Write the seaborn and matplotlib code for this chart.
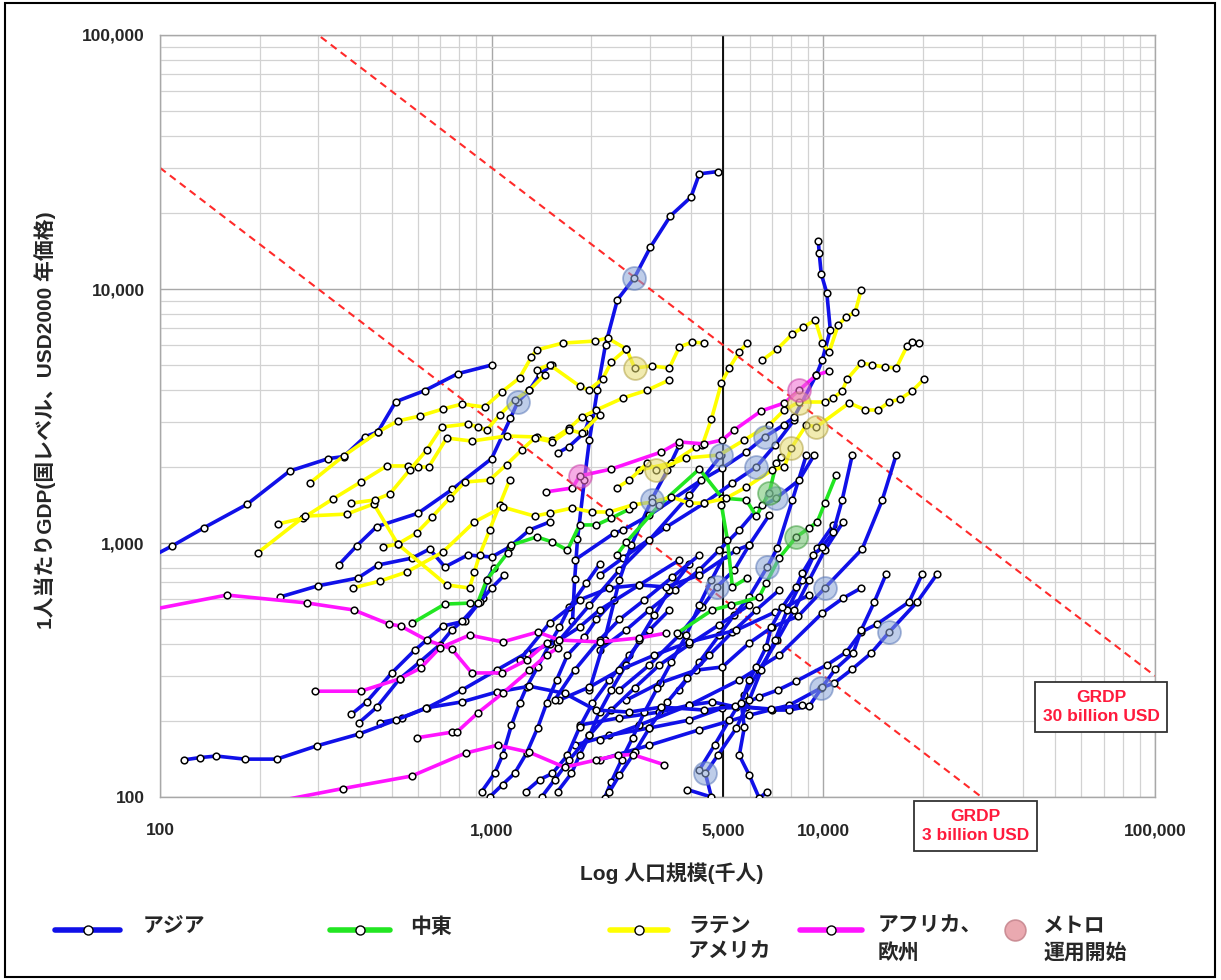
import numpy as np
import pandas as pd
import matplotlib
matplotlib.use("Agg")
import matplotlib.pyplot as plt
import seaborn as sns
from matplotlib.lines import Line2D
from matplotlib.patches import Rectangle
from matplotlib.ticker import LogLocator, NullFormatter

# ---------------- data (population in thousands, GDP per capita USD2000) -------------
asia_pop = [
    [93, 109, 136, 183, 246, 322, 358, 415, 454, 514, 628, 790, 1000],
    [1753, 1780, 1815, 1905, 1973, 2085, 2205, 2395, 2695, 3010, 3460, 3990, 4230, 4810],
    [346, 392, 450, 600, 760, 1000, 1140, 1200, 1300, 1395, 1520],
    [1590, 1710, 1905, 1973],
    [118, 132, 148, 180, 225, 297, 398, 515, 632, 815, 1035, 1300, 1660, 2060, 2600, 3250, 4380, 5430, 6950, 8650],
    [378, 420, 500, 587, 713, 830, 940, 968, 1015],
    [398, 451, 528, 607, 697, 758, 815, 920, 1000, 1093],
    [230, 299, 395, 454, 577, 650, 723, 848, 1000, 1133, 1300, 1495],
    [1780, 2345, 2490, 2990, 4290, 4960, 5860, 6660, 7600, 8170, 9530, 9930, 10500, 10250, 9860, 9720, 9660],
    [6780, 6411, 5980, 5581, 5780, 5660, 5980, 6280, 6730, 6970, 7530, 8290, 8650, 9330, 9930, 10720, 11400, 12230],
    [2550, 3210, 4140, 4960, 5980, 7020, 8410, 10110, 13100, 15060, 16590],
    [2115, 2990, 4230, 5980, 7900, 9860, 10790, 12230, 13960, 15800, 19190, 22040],
    [1841, 2429, 3205, 3946, 4630, 5470, 6411, 7310, 8290, 10250, 11730, 13010, 14540, 18138, 19880],
    [1780, 2266, 2990, 3946, 4960, 5860, 7020, 7900, 9067, 9930, 10870, 12310, 13010, 14250, 15470],
    [4230, 4700, 5207, 5780, 6411, 7270, 8170, 9067, 10110, 11480],
    [3682, 4230, 4858, 5390, 5980, 6780, 7270, 8070, 8890],
    [2115, 2540, 2990, 3560, 4230, 4858, 5581, 6280, 7220, 8460, 9390],
    [2115, 2490, 3365, 4380, 5320, 6280, 7160, 8170],
    [1602, 1973, 2429, 2990, 3946, 4930],
    [1973, 2190, 2429, 2640, 3055, 3390, 3682],
    [2429, 2990, 3682, 4320, 4770, 5390, 5980, 6871],
    [2115, 2790, 3946, 5581, 7364, 9930, 11480, 13010],
    [933, 1021, 1079, 1148, 1214, 1275, 1376, 1495, 1602, 1717, 1932, 2115],
    [986, 1079, 1173, 1275, 1376, 1465, 1570, 1693, 1905, 2070, 2345],
    [1266, 1395, 1526, 1693, 1841, 2014, 2266, 2603, 2990, 3435],
    [1580, 1741, 1841, 1973, 2115, 2297, 2540, 2790, 3097, 3435, 3946],
    [2190, 2297, 2465, 2660, 2890, 3162, 3485, 3865, 4230, 4600, 5040],
    [2266, 2429, 2700, 2990, 3390, 3890, 4533, 5320, 6280, 7364],
    [1415, 1549, 1717, 1973, 2297, 2700, 3205, 3946, 4858, 5980],
    [460, 536, 637, 815, 1035, 1275, 1570, 1841, 2115, 2790, 3682],
    [1602, 1973, 2429, 3097, 3946, 5470, 7160, 9067],
    [3890, 4600, 4410, 4810, 5470, 5980, 6500, 7160, 7790, 8650, 9590, 10720],
    [1214, 1495, 1841, 2266, 2790, 3365, 4230, 5470, 5980],
    [1549, 1780, 2115, 2429, 2890, 3510, 4230],
]
asia_gdp = [
    [875, 975, 1150, 1420, 1920, 2150, 2190, 2620, 2740, 3600, 3980, 4640, 5020],
    [491, 719, 1033, 1778, 2555, 4016, 6037, 9073, 11070, 14600, 19400, 23000, 28400, 29000],
    [820, 975, 1160, 1310, 1625, 2150, 3100, 3600, 4000, 4600, 5020],
    [2270, 2395, 2725, 3100],
    [140, 143, 145, 141, 141, 159, 177, 201, 224, 237, 259, 273, 256, 220, 216, 226, 220, 228, 222, 230],
    [212, 237, 308, 379, 471, 493, 607, 715, 797],
    [196, 226, 292, 340, 397, 454, 493, 586, 665, 748],
    [613, 678, 728, 819, 873, 947, 805, 897, 881, 965, 1125, 1210],
    [857, 1095, 1125, 1288, 1770, 1973, 2282, 2615, 2917, 3133, 4587, 5250, 6900, 9640, 11460, 13870, 15450],
    [105, 99, 122, 146, 188, 234, 289, 325, 390, 467, 560, 671, 762, 897, 965, 1105, 1477, 2220],
    [241, 281, 316, 325, 404, 467, 516, 665, 947, 1477, 2220],
    [140, 160, 184, 210, 230, 269, 281, 319, 369, 446, 586, 755],
    [192, 205, 216, 230, 237, 226, 248, 264, 286, 331, 372, 446, 480, 586, 755],
    [160, 175, 187, 201, 224, 226, 220, 220, 228, 271, 319, 369, 454, 586, 755],
    [128, 160, 201, 252, 316, 415, 545, 715, 938, 1210],
    [264, 340, 434, 521, 613, 805, 955, 1477, 2220],
    [379, 454, 545, 653, 783, 938, 1125, 1349, 1503, 1770, 2220],
    [748, 873, 1156, 1436, 1722, 1992, 2432, 3050],
    [415, 570, 783, 1028, 1545, 2220],
    [264, 415, 715, 982, 1503, 1938, 2432],
    [264, 331, 434, 560, 671, 783, 982, 1288],
    [168, 192, 230, 289, 362, 530, 607, 665],
    [105, 124, 146, 192, 234, 271, 325, 399, 467, 560, 697, 824],
    [100, 112, 124, 149, 187, 234, 289, 362, 427, 500, 597],
    [105, 117, 124, 146, 188, 234, 289, 362, 454, 545],
    [105, 124, 146, 175, 216, 264, 331, 415, 521, 653, 824],
    [99, 115, 140, 171, 216, 269, 340, 434, 570, 715, 897],
    [105, 122, 150, 187, 237, 294, 362, 446, 545, 653],
    [100, 117, 140, 175, 220, 269, 331, 399, 477, 570],
    [196, 205, 224, 264, 316, 369, 408, 467, 545, 684, 857],
    [241, 271, 316, 362, 408, 454, 535, 624],
    [107, 100, 124, 146, 187, 241, 316, 415, 545, 715, 955, 1178],
    [346, 484, 597, 665, 684, 671, 748, 938, 982],
    [241, 316, 415, 500, 597, 735, 897],
]

mideast_pop = [
    [577, 723, 858, 907, 966, 1117, 1148, 1367, 1526, 1693, 1841, 2070, 2297, 2603],
    [2382, 2550, 3205, 4230, 4960, 5860, 6280, 6550, 6871, 7220, 7470],
    [3630, 4630, 5280, 6411, 6730, 7364, 8290, 9067, 9590, 10110, 10940],
    [4930, 5140, 5320, 5900],
]
mideast_gdp = [
    [484, 575, 580, 580, 715, 914, 982, 1057, 1009, 938, 1178, 1178, 1254, 1361],
    [897, 1009, 1412, 1956, 1503, 1477, 1276, 1412, 1574, 2065, 2181],
    [442, 545, 570, 613, 697, 873, 1057, 1146, 1210, 1436, 1853],
    [1412, 1028, 671, 728],
]

latam_pop = [
    [283, 358, 454, 521, 607, 713, 815, 952, 1072, 1214, 1318, 1367, 1636, 2043, 2236, 2550, 2700, 3035, 3435, 3682, 4030, 4380],
    [227, 270, 332, 403, 483, 558, 598, 646, 732, 871, 1110, 1367, 1516, 1717, 1867, 2070, 2490, 2950, 3435],
    [197, 273, 366, 441, 521, 732, 858, 887, 920, 986, 1057, 1133],
    [381, 460, 555, 713, 887, 1079, 1348, 1495, 1753, 2001, 2266, 2660, 3035, 3485, 3946, 4380, 5100, 5860, 7020, 7630,
     8010, 8890, 9530, 11970, 13390, 14650, 15800, 17060, 18530, 20150],
    [6550, 7270, 8070, 8710, 9460, 9930, 10420, 11090, 11730, 12480, 13010],
    [2790, 3485, 4140, 4320, 4600, 4930, 5207, 5581, 5900],
    [2382, 2603, 2950, 3140, 3865, 4858, 5780, 6871, 7630, 8460, 10110, 10720, 11400, 11810, 13010, 14050, 15310, 16590,
     17900, 18530, 19460],
    [470, 521, 594, 661, 747, 830, 986, 1110, 1231, 1348, 1526, 1717, 1867, 2115],
    [378, 444, 493, 566, 637, 707, 850, 907, 966, 1057, 1173, 1300, 1445],
    [1367, 1495, 1841, 1960, 2160, 2297, 2550],
]
latam_gdp = [
    [1722, 2202, 2735, 3022, 3162, 3370, 3526, 3430, 3930, 4467, 5400, 5754, 6124, 6237, 6412, 5805, 4885, 4977, 4885, 5915, 6180, 6124],
    [1188, 1254, 1490, 1738, 2011, 2011, 1992, 1992, 2590, 2521, 2638, 2615, 2545, 2837, 3133, 3340, 3724, 4000, 4385],
    [914, 1276, 1300, 1426, 991, 684, 665, 769, 897, 1125, 1412, 1770],
    [665, 708, 769, 922, 1210, 1386, 1276, 1313, 1374, 1325, 1325, 1412, 1449, 1517, 1436, 1436, 1503, 1660, 1938, 1992,
     2366, 2917, 2862, 3559, 3340, 3340, 3590, 3690, 3965, 4424],
    [5250, 5805, 6650, 7080, 7550, 6124, 5650, 7210, 7760, 8110, 9910],
    [1938, 2065, 2388, 2432, 3076, 4266, 4885, 5650, 6124],
    [1647, 1770, 2065, 1938, 2161, 2220, 2545, 2917, 3340, 3590, 3590, 3724, 3965, 4424, 5114, 5020, 4930, 4885,
     5970, 6180, 6124],
    [965, 991, 1095, 1265, 1503, 1738, 1770, 2037, 2323, 2590, 2500, 2786, 2710, 3190],
    [1436, 1477, 1560, 1938, 2323, 2862, 2944, 2862, 2786, 3190, 3656, 4000, 4587],
    [4800, 5037, 4150, 4000, 4424, 5160, 5805],
]

afeu_pop = [
    [90, 159, 277, 384, 489, 532, 637, 758, 871, 1072, 1275, 1465],
    [293, 403, 528, 611, 697, 858, 1079, 1376, 1602, 2115, 2790, 3365],
    [594, 758, 785, 907, 1079, 1300, 1465, 1580],
    [214, 356, 574, 835, 1042, 1300, 1660, 2070, 2397, 2660, 3316],
    [1455, 1753, 1841, 2297, 3250, 3682, 4380, 4960, 5390, 6500, 7630, 8460, 9530, 10420],
]
afeu_gdp = [
    [540, 624, 581, 545, 480, 471, 415, 383, 308, 308, 346, 404],
    [261, 261, 292, 322, 386, 434, 408, 446, 415, 408, 423, 442],
    [171, 180, 180, 214, 256, 316, 362, 386],
    [95, 108, 121, 149, 160, 150, 131, 140, 146, 147, 134],
    [1589, 1647, 1835, 1956, 2282, 2500, 2455, 2545, 2786, 3311, 3559, 4000, 4587, 4753],
]

metro_region = ["アジア"] * 13 + ["ラテンアメリカ"] * 5 + ["アフリカ、欧州"] * 2 + ["中東"] * 2
metro_pop = [2695, 1200, 4930, 6660, 6280, 3035, 7220, 6780, 4770, 10110, 15800, 9860, 4410,
             2700, 3140, 8010, 9530, 8460,
             1841, 8460,
             6871, 8290]
metro_gdp = [11070, 3600, 2220, 2615, 1992, 1477, 1503, 805, 671, 665, 446, 269, 124,
             4885, 1938, 2366, 2862, 3559,
             1835, 4000,
             1574, 1057]

grdp_levels = [3e6, 3e7]          # thousand persons x USD  -> 3 and 30 billion USD
grdp_labels = ["GRDP\n3 billion USD", "GRDP\n30 billion USD"]
ref_pop = 5000
x_ticks = [100, 1000, 5000, 10000, 100000]
x_tick_labels = ["100", "1,000", "5,000", "10,000", "100,000"]
y_ticks = [100, 1000, 10000, 100000]
y_tick_labels = ["100", "1,000", "10,000", "100,000"]
legend_labels = ["アジア", "中東", "ラテン\nアメリカ", "アフリカ、\n欧州", "メトロ\n運用開始"]

regions = ["アジア", "中東", "ラテンアメリカ", "アフリカ、欧州"]
line_colors = {"アジア": "#1010e8", "中東": "#22e622", "ラテンアメリカ": "#ffff00", "アフリカ、欧州": "#ff14ff"}
metro_fill = {"アジア": "#8aa4d8", "中東": "#6cc46c", "ラテンアメリカ": "#e6dc70", "アフリカ、欧州": "#f06ad2"}
metro_edge = {"アジア": "#5a78b8", "中東": "#3c9c3c", "ラテンアメリカ": "#b0a040", "アフリカ、欧州": "#c83ca8"}

# ---------------- build long table ----------------
rows = []
for reg, P, G in [("アジア", asia_pop, asia_gdp), ("中東", mideast_pop, mideast_gdp),
                  ("ラテンアメリカ", latam_pop, latam_gdp), ("アフリカ、欧州", afeu_pop, afeu_gdp)]:
    for i, (ps, gs) in enumerate(zip(P, G)):
        for k, (p, g) in enumerate(zip(ps, gs)):
            rows.append({"region": reg, "sid": f"{reg}-{i}", "order": k, "pop": p, "gdp": g})
df = pd.DataFrame(rows)
metro_df = pd.DataFrame({"region": metro_region, "pop": metro_pop, "gdp": metro_gdp})

# ---------------- style ----------------
sns.set_theme(style="white")
plt.rcParams["font.family"] = ["Liberation Sans", "Noto Sans CJK JP", "DejaVu Sans"]

fig = plt.figure(figsize=(12.21, 9.8), dpi=100)
ax = fig.add_axes([0.131, 0.1867, 0.8149, 0.7776])
ax.set_xscale("log")
ax.set_yscale("log")
ax.set_xlim(100, 100000)
ax.set_ylim(100, 100000)

ax.xaxis.set_minor_locator(LogLocator(base=10, subs=np.arange(2, 10)))
ax.yaxis.set_minor_locator(LogLocator(base=10, subs=np.arange(2, 10)))
ax.xaxis.set_minor_formatter(NullFormatter())
ax.yaxis.set_minor_formatter(NullFormatter())
ax.set_xticks(x_ticks, labels=x_tick_labels, fontweight="bold", fontsize=12.5)
ax.set_yticks(y_ticks, labels=y_tick_labels, fontweight="bold", fontsize=12.5)
ax.tick_params(axis="x", which="both", length=0, pad=19)
ax.tick_params(axis="y", which="both", length=0, pad=11)
ax.grid(which="major", color="#a8a8a8", linewidth=1.0)
ax.grid(which="minor", color="#d2d2d2", linewidth=0.9)
ax.set_axisbelow(True)
for sp in ax.spines.values():
    sp.set_color("#a8a8a8")
    sp.set_linewidth(1.0)

ax.axvline(ref_pop, color="black", linewidth=1.3, zorder=1.5)

# ---------------- trajectories ----------------
for reg in regions:
    sub = df[df["region"] == reg]
    sns.lineplot(data=sub, x="pop", y="gdp", units="sid", estimator=None, sort=False,
                 color=line_colors[reg], linewidth=2.6, marker="o", markersize=4.8,
                 markerfacecolor="white", markeredgecolor="black", markeredgewidth=1.1,
                 legend=False, ax=ax, zorder=3)

# metro start markers
for reg in regions:
    sub = metro_df[metro_df["region"] == reg]
    sns.scatterplot(data=sub, x="pop", y="gdp", s=270, color=metro_fill[reg], alpha=0.55,
                    edgecolor=metro_edge[reg], linewidth=1.3, legend=False, ax=ax, zorder=4)

# GRDP iso-lines
xr = np.array([100.0, 100000.0])
for lvl in grdp_levels:
    ax.plot(xr, lvl / xr, color="#ff2a2a", linestyle=(0, (3.5, 2.5)), linewidth=1.5, zorder=2.5)

box = dict(boxstyle="square,pad=0.45", facecolor="white", edgecolor="#333333", linewidth=1.3)
ax.text(0.820, -0.038, grdp_labels[0], transform=ax.transAxes, ha="center", va="center",
        color="#ff1a3c", fontsize=12.5, fontweight="bold", linespacing=1.3, bbox=box, zorder=6)
ax.text(0.946, 0.118, grdp_labels[1], transform=ax.transAxes, ha="center", va="center",
        color="#ff1a3c", fontsize=12.5, fontweight="bold", linespacing=1.3, bbox=box, zorder=6)

ax.set_xlabel("")
ax.set_ylabel("")
fig.text(672 / 1221, 1 - 873 / 980, "Log 人口規模(千人)", ha="center", va="center",
         fontsize=15, fontweight="bold")
fig.text(45 / 1221, 1 - 420 / 980, "1人当たりGDP(国レベル、USD2000 年価格)", ha="center", va="center",
         rotation=90, fontsize=15, fontweight="bold")

# ---------------- legend (bottom) ----------------
ly = 1 - 930 / 980
legend_specs = [(55, 120, 143, line_colors["アジア"]),
                (330, 390, 410, line_colors["中東"]),
                (610, 668, 688, line_colors["ラテンアメリカ"]),
                (800, 862, 878, line_colors["アフリカ、欧州"])]
for (x0, x1, xt, col), lab in zip(legend_specs, legend_labels[:4]):
    xm = (x0 + x1) / 2
    fig.add_artist(Line2D([x0 / 1221, xm / 1221, x1 / 1221], [ly, ly, ly], transform=fig.transFigure,
                          color=col, linewidth=4, marker="o", markevery=[1], markersize=6.5,
                          markerfacecolor="white", markeredgecolor="black", markeredgewidth=1.0))
    fig.text(xt / 1221, 1 - 917 / 980, lab, ha="left", va="top", fontsize=15, fontweight="bold",
             linespacing=1.45)
fig.add_artist(Line2D([1015 / 1221], [ly], transform=fig.transFigure, marker="o", linestyle="none",
                      markersize=15, markerfacecolor="#e8a0a8", markeredgecolor="#c88890",
                      markeredgewidth=1.2, alpha=0.9))
fig.text(1043 / 1221, 1 - 917 / 980, legend_labels[4], ha="left", va="top", fontsize=15,
         fontweight="bold", linespacing=1.45)

fig.add_artist(Rectangle((0.004, 0.003), 0.991, 0.994, transform=fig.transFigure, fill=False,
                         edgecolor="black", linewidth=1.5))

fig.savefig("out.png", dpi=100, facecolor="white")
